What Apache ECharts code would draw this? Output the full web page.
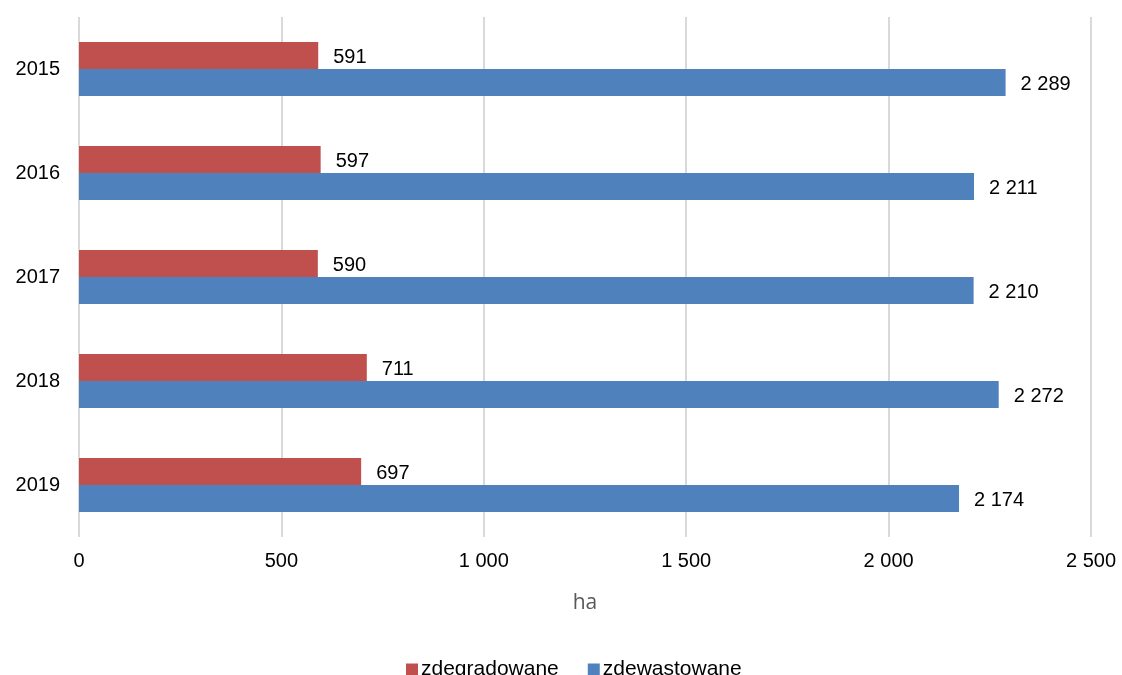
<!DOCTYPE html>
<html>
<head>
    <meta charset="utf-8">
    <title>zdegradowane / zdewastowane</title>
    <style type="text/css">
        body {
            margin: 0;
        }
        html, body, #chart {
            width: 1122px;
            height: 675px;
        }
    </style>
</head>
<body>

    <div id="chart"></div>
    <script src="https://cdn.jsdelivr.net/npm/echarts@6/dist/echarts.min.js"></script>

    <script>
        var years = ['2015', '2016', '2017', '2018', '2019'];
        var zdegradowane = [591, 597, 590, 711, 697];
        var zdewastowane = [2289, 2211, 2210, 2272, 2174];
        var xTicks = [0, 500, 1000, 1500, 2000, 2500];

        function fmt(v) {
            return String(v).replace(/\B(?=(\d{3})+(?!\d))/g, ' ');
        }

        var font = 'Liberation Sans, Arial, sans-serif';

        var chart = echarts.init(document.getElementById('chart'));

        var barLabel = {
            show: true,
            position: 'right',
            distance: 15,
            offset: [0, 2],
            color: '#000',
            fontSize: 20,
            fontFamily: font,
            formatter: function (p) {
                return fmt(p.value);
            }
        };

        chart.setOption({
            animation: false,
            textStyle: { fontFamily: font },
            legend: {
                data: ['zdegradowane', 'zdewastowane'],
                bottom: -5,
                left: 406,
                padding: 0,
                itemWidth: 12,
                itemHeight: 12,
                itemGap: 29,
                icon: 'rect',
                textStyle: {
                    fontSize: 21,
                    color: '#000',
                    fontFamily: font,
                    padding: [0, 0, 0, -2]
                }
            },
            grid: {
                left: 79,
                right: 31,
                top: 17,
                bottom: 138
            },
            xAxis: {
                type: 'value',
                min: xTicks[0],
                max: xTicks[xTicks.length - 1],
                interval: 500,
                name: 'ha',
                nameLocation: 'middle',
                nameGap: 56,
                nameTextStyle: {
                    fontSize: 21,
                    color: '#595959',
                    fontFamily: 'Open Sans, sans-serif'
                },
                axisLine: { show: false },
                axisTick: { show: false },
                axisLabel: {
                    fontSize: 20,
                    color: '#000',
                    margin: 14,
                    formatter: fmt
                },
                splitLine: {
                    lineStyle: { color: '#d9d9d9', width: 2 }
                }
            },
            yAxis: {
                type: 'category',
                data: years,
                inverse: true,
                axisLine: { show: false },
                axisTick: { show: false },
                axisLabel: {
                    fontSize: 20,
                    color: '#000',
                    margin: 19,
                    padding: [3, 0, 0, 0]
                }
            },
            series: [
                {
                    name: 'zdegradowane',
                    type: 'bar',
                    data: zdegradowane,
                    barWidth: 27,
                    barGap: '0%',
                    itemStyle: { color: '#C0504D' },
                    label: barLabel
                },
                {
                    name: 'zdewastowane',
                    type: 'bar',
                    data: zdewastowane,
                    barWidth: 27,
                    barGap: '0%',
                    itemStyle: { color: '#4F81BD' },
                    label: barLabel
                }
            ]
        });
    </script>
</body>
</html>
